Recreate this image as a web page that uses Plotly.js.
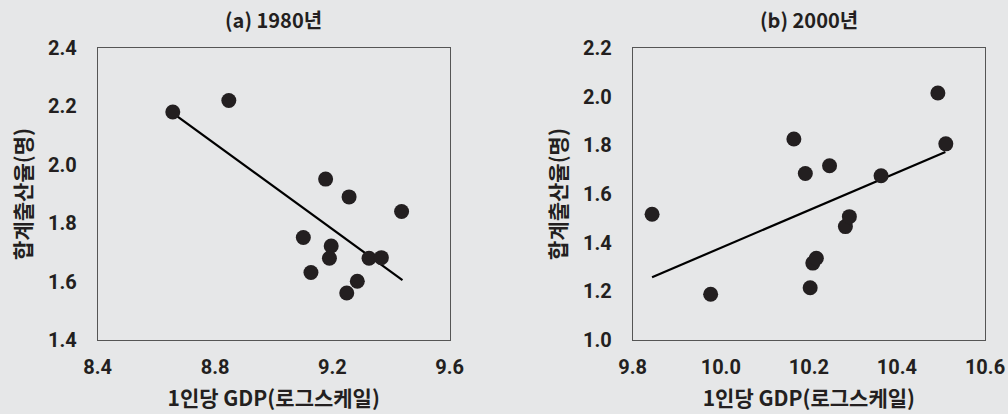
<!DOCTYPE html>
<html>
<head>
<meta charset="utf-8">
<script src="https://cdn.plot.ly/plotly-3.0.1.min.js"></script>
<style>
  html, body { margin: 0; padding: 0; background: #e6e7e8; }
  #chart { width: 1008px; height: 414px; }
</style>
</head>
<body>
<div id="chart"></div>
<script>
// Panel (a) 1980
const gdp1980 = [8.656, 8.847, 9.177, 9.257, 9.436, 9.101, 9.196, 9.190, 9.325, 9.367, 9.127, 9.285, 9.249];
const tfr1980 = [2.181, 2.220, 1.951, 1.890, 1.840, 1.751, 1.722, 1.680, 1.680, 1.682, 1.631, 1.601, 1.561];
const fitX1980 = [8.656, 9.439];
const fitY1980 = [2.177, 1.605];

// Panel (b) 2000
const gdp2000 = [9.844, 9.977, 10.166, 10.192, 10.247, 10.203, 10.209, 10.217, 10.283, 10.292, 10.364, 10.493, 10.511];
const tfr2000 = [1.517, 1.188, 1.826, 1.684, 1.716, 1.215, 1.316, 1.336, 1.466, 1.507, 1.675, 2.015, 1.806];
const fitX2000 = [9.844, 10.510];
const fitY2000 = [1.258, 1.773];

const xTicks1980 = [8.4, 8.8, 9.2, 9.6];
const yTicks1980 = [1.4, 1.6, 1.8, 2.0, 2.2, 2.4];
const xTicks2000 = [9.8, 10.0, 10.2, 10.4, 10.6];
const yTicks2000 = [1.0, 1.2, 1.4, 1.6, 1.8, 2.0, 2.2];

const panelTitles = ['(a) 1980년', '(b) 2000년'];
const xTitle = '1인당 GDP(로그스케일)';
const yTitle = '합계출산율(명)';

const BG = '#e6e7e8';
const DARK = '#231f20';
const TICKFONT = {family: 'Roboto, "Noto Sans CJK KR", sans-serif', size: 20, color: DARK, weight: 'bold'};
const TITLEFONT = {family: '"Noto Sans CJK KR", sans-serif', size: 20, color: DARK, weight: 'bold'};
const AXTITLEFONT = {family: '"Noto Sans CJK KR", sans-serif', size: 21, color: DARK, weight: 'bold'};

const markerStyle = {size: 15, color: DARK, line: {width: 0}};
const lineStyle = {color: '#000000', width: 2.2};

const traces = [
  {x: fitX1980, y: fitY1980, type: 'scatter', mode: 'lines', line: lineStyle, xaxis: 'x', yaxis: 'y', hoverinfo: 'skip'},
  {x: gdp1980, y: tfr1980, type: 'scatter', mode: 'markers', marker: markerStyle, xaxis: 'x', yaxis: 'y'},
  {x: fitX2000, y: fitY2000, type: 'scatter', mode: 'lines', line: lineStyle, xaxis: 'x2', yaxis: 'y2', hoverinfo: 'skip'},
  {x: gdp2000, y: tfr2000, type: 'scatter', mode: 'markers', marker: markerStyle, xaxis: 'x2', yaxis: 'y2'}
];

function xAxis(domain, range, ticks, anchor) {
  return {
    domain: domain, range: range, tickvals: ticks, ticktext: ticks.map(v => v.toFixed(1)),
    anchor: anchor, showgrid: false, zeroline: false, ticks: '',
    showline: true, mirror: true, linecolor: '#555555', linewidth: 1,
    tickfont: TICKFONT, ticklabelstandoff: 9,
    title: {text: xTitle, font: AXTITLEFONT, standoff: 13},
    automargin: false
  };
}
function yAxis(range, ticks, anchor) {
  return {
    range: range, tickvals: ticks, ticktext: ticks.map(v => v.toFixed(1)),
    anchor: anchor, showgrid: false, zeroline: false, ticks: '',
    showline: true, mirror: true, linecolor: '#555555', linewidth: 1,
    tickfont: TICKFONT, ticklabelstandoff: 16,
    title: {text: yTitle, font: AXTITLEFONT, standoff: 10},
    automargin: false
  };
}

const d1 = [97.7 / 1008, 449.7 / 1008];
const d2 = [632.7 / 1008, 985 / 1008];

const layout = {
  width: 1008, height: 414,
  paper_bgcolor: BG, plot_bgcolor: BG,
  showlegend: false,
  margin: {l: 0, r: 0, t: 48, b: 74, pad: 0},
  xaxis: xAxis(d1, [8.4, 9.6], xTicks1980, 'y'),
  yaxis: yAxis([1.4, 2.4], yTicks1980, 'x'),
  xaxis2: xAxis(d2, [9.8, 10.6], xTicks2000, 'y2'),
  yaxis2: yAxis([1.0, 2.2], yTicks2000, 'x2'),
  annotations: [
    {text: panelTitles[0], xref: 'paper', yref: 'paper', x: (d1[0] + d1[1]) / 2, y: 1.097,
     xanchor: 'center', yanchor: 'middle', showarrow: false, font: TITLEFONT},
    {text: panelTitles[1], xref: 'paper', yref: 'paper', x: (d2[0] + d2[1]) / 2, y: 1.097,
     xanchor: 'center', yanchor: 'middle', showarrow: false, font: TITLEFONT}
  ]
};

Plotly.newPlot('chart', traces, layout, {displayModeBar: false, staticPlot: true});
</script>
</body>
</html>
